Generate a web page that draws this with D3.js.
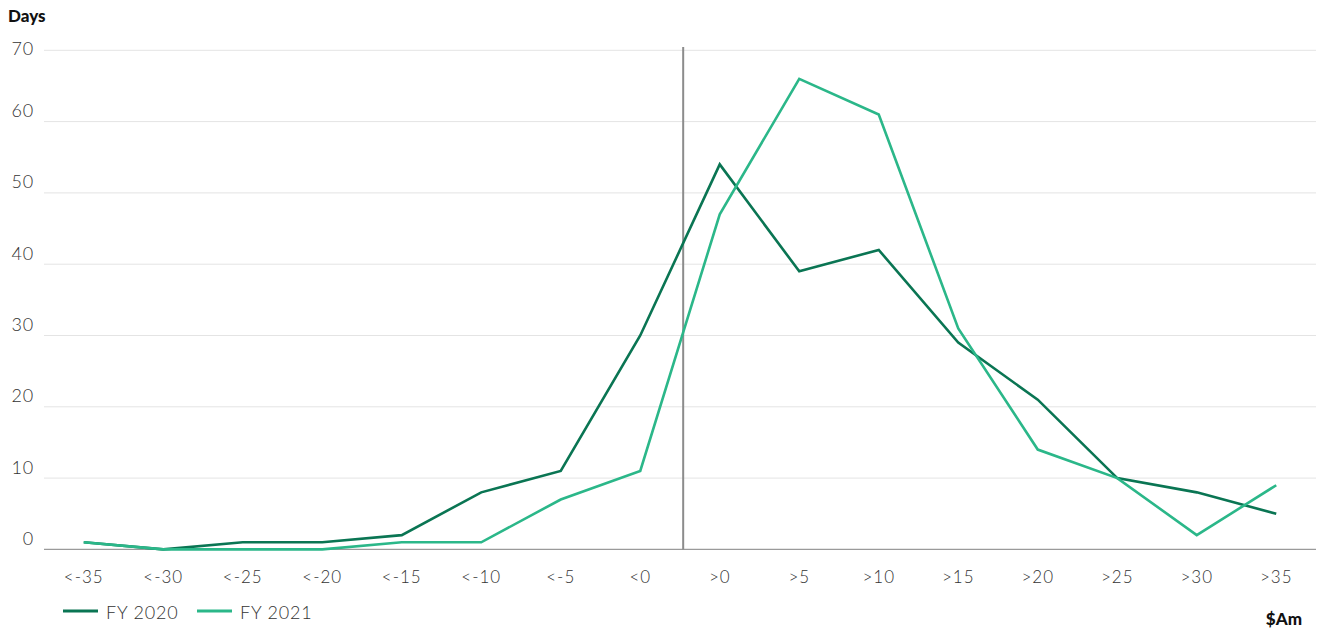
<!DOCTYPE html>
<html>
<head>
<meta charset="utf-8">
<script src="https://cdn.jsdelivr.net/npm/d3@7"></script>
<style>
  body { margin: 0; background: #fff; }
  svg text { font-family: Lato, "Open Sans", sans-serif; }
</style>
</head>
<body>
<div id="chart"></div>
<script>
// categories ($Am buckets)
var categories = ["<-35","<-30","<-25","<-20","<-15","<-10","<-5","<0",">0",">5",">10",">15",">20",">25",">30",">35"];
var fy2020 = [1,0,1,1,2,8,11,30,54,39,42,29,21,10,8,5];
var fy2021 = [1,0,0,0,1,1,7,11,47,66,61,31,14,10,2,9];
var yTicks = [0,10,20,30,40,50,60,70];
var seriesNames = ["FY 2020","FY 2021"];
var seriesColors = ["#0a7553","#2bb789"];

var W = 1319, H = 630;
var mLeft = 44, mRight = 1316, mTop = 50.3, mBottom = 549.4;

var svg = d3.select("#chart").append("svg").attr("width",W).attr("height",H);

var x = d3.scalePoint().domain(categories).range([mLeft,mRight]).padding(0.5);
var y = d3.scaleLinear().domain([0,70]).range([mBottom,mTop]);

// grid
svg.append("g").selectAll("line").data(yTicks.filter(function(d){return d>0;})).enter().append("line")
    .attr("x1",mLeft).attr("x2",mRight)
    .attr("y1",function(d){return y(d);}).attr("y2",function(d){return y(d);})
    .attr("stroke","#e4e4e4").attr("stroke-width",1);

// y labels
svg.append("g").selectAll("text").data(yTicks).enter().append("text")
    .attr("x",34)
    .attr("y",function(d){return Math.max(y(d)-9, 51);})
    .attr("text-anchor","end").attr("dominant-baseline","middle")
    .style("font-size","18px").style("font-weight","300").style("letter-spacing","0.8px").style("fill","#333")
    .text(function(d){return d;});

// x axis line
svg.append("line").attr("x1",mLeft).attr("x2",mRight).attr("y1",y(0)).attr("y2",y(0))
    .attr("stroke","#9a9a9a").attr("stroke-width",1.2);

// x labels
svg.append("g").selectAll("text").data(categories).enter().append("text")
    .attr("x",function(d){return x(d);}).attr("y",583)
    .attr("text-anchor","middle")
    .style("font-size","17px").style("font-weight","300").style("letter-spacing","1px").style("fill","#333")
    .text(function(d){return d;});

// divider between <0 and >0
var divX = x("<0") + x.step()*0.54;
svg.append("line").attr("x1",divX).attr("x2",divX).attr("y1",47).attr("y2",y(0))
    .attr("stroke","#8c8c8c").attr("stroke-width",2);

// lines
var line = d3.line().x(function(d,i){return x(categories[i]);}).y(function(d){return y(d);});
[fy2020, fy2021].forEach(function(s,i){
    svg.append("path").datum(s).attr("d",line)
        .attr("fill","none").attr("stroke",seriesColors[i]).attr("stroke-width",2.6)
        .attr("stroke-linejoin","miter");
});

// titles
svg.append("text").attr("x",8).attr("y",22).text("Days")
    .style("font-size","17px").style("font-weight","900").style("fill","#111");
svg.append("text").attr("x",1302).attr("y",625).attr("text-anchor","end").text("$Am")
    .style("font-size","17px").style("font-weight","900").style("fill","#111");

// legend
var legX = [63,197];
seriesNames.forEach(function(n,i){
    svg.append("line").attr("x1",legX[i]).attr("x2",legX[i]+35).attr("y1",611).attr("y2",611)
        .attr("stroke",seriesColors[i]).attr("stroke-width",3);
    svg.append("text").attr("x",legX[i]+43).attr("y",619).text(n)
        .style("font-size","18px").style("font-weight","300").style("letter-spacing","0.8px").style("fill","#333");
});
</script>
</body>
</html>
